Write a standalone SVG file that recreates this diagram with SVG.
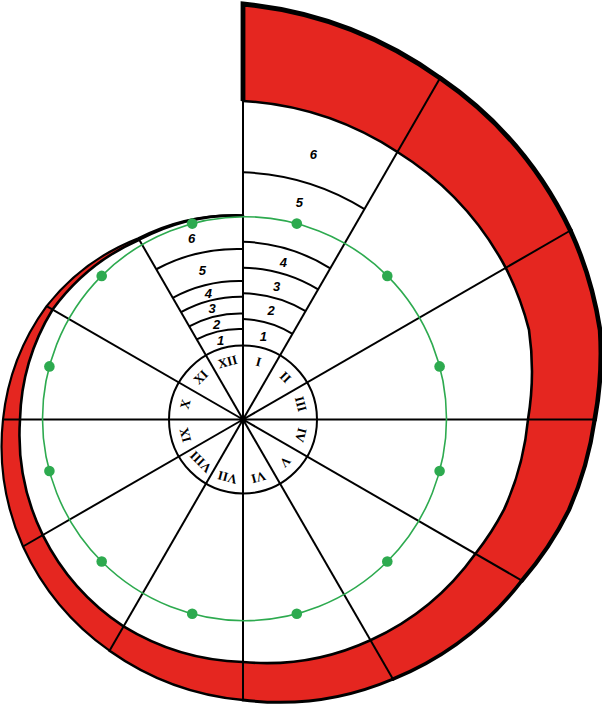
<svg xmlns="http://www.w3.org/2000/svg" width="602" height="706" viewBox="0 0 602 706">
<style>
.band{fill:#e52620;stroke:none}
.edge{fill:none;stroke:#000;stroke-linecap:round;stroke-linejoin:round}
.spoke{stroke:#000;stroke-width:2;fill:none}
.arc{fill:none;stroke:#000;stroke-width:2}
.rom{font-family:"Liberation Serif","Times New Roman",serif;font-weight:bold;font-size:13px;text-anchor:middle;fill:#000}
.num{font-family:"Liberation Sans",Arial,sans-serif;font-weight:bold;font-style:italic;font-size:13px;text-anchor:middle;fill:#000}
.green{fill:none;stroke:#2daa4f;stroke-width:1.6}
.dot{fill:#2daa4f}
</style>
<rect width="602" height="706" fill="#fff"/>
<g id="spiral-band">
<path class="band" d="M243,4 A404.9,404.9 0 0 1 440.1,78.1 A386.1,386.1 0 0 1 570.4,230.5 A373,373 0 0 1 600.1,330.5 A359.9,359.9 0 0 1 594.7,419.5 A345,345 0 0 1 569,509.9 A330.2,330.2 0 0 1 521.9,580.6 A311,311 0 0 1 392.9,679.1 A290.2,290.2 0 0 1 243,700 A273.8,273.8 0 0 1 109.5,650.7 A260.5,260.5 0 0 1 23,546.5 A247,247 0 0 1 3,419.5 A233.4,233.4 0 0 1 46.6,306.1 A218,218 0 0 1 138.35,238.2 A206.7,206.7 0 0 1 243,215.5 A205.8,205.8 0 0 0 139.2,239.7 A213.75,213.75 0 0 0 52.6,309.55 A221.5,221.5 0 0 0 20,419.5 A227.1,227.1 0 0 0 42.8,535.1 A235,235 0 0 0 123.55,626.4 A240.7,240.7 0 0 0 243,662 A248.7,248.7 0 0 0 370.4,640.2 A261.6,261.6 0 0 0 475.4,553.7 A272.3,272.3 0 0 0 504.1,509.4 A280.6,280.6 0 0 0 528,419.5 A292.4,292.4 0 0 0 529,329.9 A301.6,301.6 0 0 0 505.75,267.8 A306.2,306.2 0 0 0 397.45,152 A313.7,313.7 0 0 0 243,101 Z"/>
<path class="edge" stroke-width="2.6" d="M243,101 A313.7,313.7 0 0 1 397.45,152 A306.2,306.2 0 0 1 505.75,267.8 A301.6,301.6 0 0 1 529,329.9 A292.4,292.4 0 0 1 528,419.5 A280.6,280.6 0 0 1 504.1,509.4 A272.3,272.3 0 0 1 475.4,553.7 A261.6,261.6 0 0 1 370.4,640.2 A248.7,248.7 0 0 1 243,662 A240.7,240.7 0 0 1 123.55,626.4 A235,235 0 0 1 42.8,535.1 A227.1,227.1 0 0 1 20,419.5 A221.5,221.5 0 0 1 52.6,309.55 A213.75,213.75 0 0 1 139.2,239.7 A205.8,205.8 0 0 1 243,215.5"/>
<path class="edge" stroke-width="2.2" d="M109.5,650.7 A260.5,260.5 0 0 1 23,546.5 A247,247 0 0 1 3,419.5 A233.4,233.4 0 0 1 46.6,306.1 A218,218 0 0 1 138.35,238.2 A206.7,206.7 0 0 1 243,215.5"/>
<path class="edge" stroke-width="2.6" d="M243,700 A273.8,273.8 0 0 1 109.5,650.7"/>
<path class="edge" stroke-width="3" d="M392.9,679.1 A290.2,290.2 0 0 1 243,700"/>
<path class="edge" stroke-width="3.6" d="M521.9,580.6 A311,311 0 0 1 392.9,679.1"/>
<path class="edge" stroke-width="4.2" d="M594.7,419.5 A345,345 0 0 1 569,509.9 A330.2,330.2 0 0 1 521.9,580.6"/>
<path class="edge" stroke-width="4.6" d="M570.4,230.5 A373,373 0 0 1 600.1,330.5 A359.9,359.9 0 0 1 594.7,419.5"/>
<path class="edge" stroke-width="4.8" d="M440.1,78.1 A386.1,386.1 0 0 1 570.4,230.5"/>
<path fill="none" stroke="#000" stroke-width="4.8" stroke-linejoin="miter" d="M243,101 L243,4 A404.9,404.9 0 0 1 440.1,78.1"/>
</g>
<g id="spokes">
<line class="spoke" x1="243" y1="419.5" x2="243" y2="4"/>
<line class="spoke" x1="243" y1="419.5" x2="440.1" y2="78.1"/>
<line class="spoke" x1="243" y1="419.5" x2="570.4" y2="230.5"/>
<line class="spoke" x1="3" y1="419.5" x2="594.7" y2="419.5"/>
<line class="spoke" x1="243" y1="419.5" x2="521.9" y2="580.6"/>
<line class="spoke" x1="243" y1="419.5" x2="392.9" y2="679.1"/>
<line class="spoke" x1="243" y1="419.5" x2="243" y2="700"/>
<line class="spoke" x1="243" y1="419.5" x2="109.5" y2="650.7"/>
<line class="spoke" x1="243" y1="419.5" x2="23" y2="546.5"/>
<line class="spoke" x1="243" y1="419.5" x2="46.6" y2="306.1"/>
<line class="spoke" x1="243" y1="419.5" x2="138.35" y2="238.2"/>
</g>
<g id="sector-xii">
<path class="arc" d="M196.75,339.4 A91.5,91.5 0 0 1 243,329"/>
<path class="arc" d="M189.25,326.4 A106.75,106.75 0 0 1 243,313.5"/>
<path class="arc" d="M181,312.1 A123.4,123.4 0 0 1 243,296.7"/>
<path class="arc" d="M172.75,297.8 A139.5,139.5 0 0 1 243,281"/>
<path class="arc" d="M156.25,269.25 A172,172 0 0 1 243,249"/>
<text class="num" x="220.7" y="344.6">1</text>
<text class="num" x="216.7" y="328.6">2</text>
<text class="num" x="212" y="312.9">3</text>
<text class="num" x="208.3" y="297.9">4</text>
<text class="num" x="202.3" y="275.3">5</text>
<text class="num" x="191.7" y="242.9">6</text>
</g>
<g id="sector-i">
<path class="arc" d="M243,319 A99.75,99.75 0 0 1 292.5,333.8"/>
<path class="arc" d="M243,293.3 A125.7,125.7 0 0 1 305.6,311.1"/>
<path class="arc" d="M243,267.7 A151,151 0 0 1 318.1,289.4"/>
<path class="arc" d="M243,241.7 A176.2,176.2 0 0 1 330.3,268.3"/>
<path class="arc" d="M243,172.3 A245,245 0 0 1 364.5,209.1"/>
<text class="num" x="263.3" y="340.6">1</text>
<text class="num" x="271" y="314.6">2</text>
<text class="num" x="276.7" y="291.3">3</text>
<text class="num" x="283.3" y="267.3">4</text>
<text class="num" x="299.3" y="207.3">5</text>
<text class="num" x="313.3" y="158.6">6</text>
</g>
<g id="hour-dial">
<circle cx="243" cy="419.5" r="74" fill="none" stroke="#000" stroke-width="2"/>
<text class="rom" x="243" y="364" transform="rotate(15 243 419.5)">I</text>
<text class="rom" x="243" y="364" transform="rotate(45 243 419.5)">II</text>
<text class="rom" x="243" y="364" transform="rotate(75 243 419.5)">III</text>
<text class="rom" x="243" y="364" transform="rotate(105 243 419.5)">IV</text>
<text class="rom" x="243" y="364" transform="rotate(135 243 419.5)">V</text>
<text class="rom" x="243" y="364" transform="rotate(165 243 419.5)">VI</text>
<text class="rom" x="243" y="364" transform="rotate(195 243 419.5)">VII</text>
<text class="rom" x="243" y="364" transform="rotate(225 243 419.5)">VIII</text>
<text class="rom" x="243" y="364" transform="rotate(255 243 419.5)">IX</text>
<text class="rom" x="243" y="364" transform="rotate(285 243 419.5)">X</text>
<text class="rom" x="243" y="364" transform="rotate(315 243 419.5)">XI</text>
<text class="rom" x="243" y="364" transform="rotate(345 243 419.5)">XII</text>
</g>
<g id="green-ring">
<circle class="green" cx="244.5" cy="418.7" r="202"/>
<circle class="dot" cx="296.8" cy="223.6" r="5.3"/>
<circle class="dot" cx="387.3" cy="275.9" r="5.3"/>
<circle class="dot" cx="439.6" cy="366.4" r="5.3"/>
<circle class="dot" cx="439.6" cy="471" r="5.3"/>
<circle class="dot" cx="387.3" cy="561.5" r="5.3"/>
<circle class="dot" cx="296.8" cy="613.8" r="5.3"/>
<circle class="dot" cx="192.2" cy="613.8" r="5.3"/>
<circle class="dot" cx="101.7" cy="561.5" r="5.3"/>
<circle class="dot" cx="49.4" cy="471" r="5.3"/>
<circle class="dot" cx="49.4" cy="366.4" r="5.3"/>
<circle class="dot" cx="101.7" cy="275.9" r="5.3"/>
<circle class="dot" cx="192.2" cy="223.6" r="5.3"/>
</g>
<g id="center">
<circle cx="243" cy="419.5" r="3.5" fill="#000"/>
</g>
</svg>
